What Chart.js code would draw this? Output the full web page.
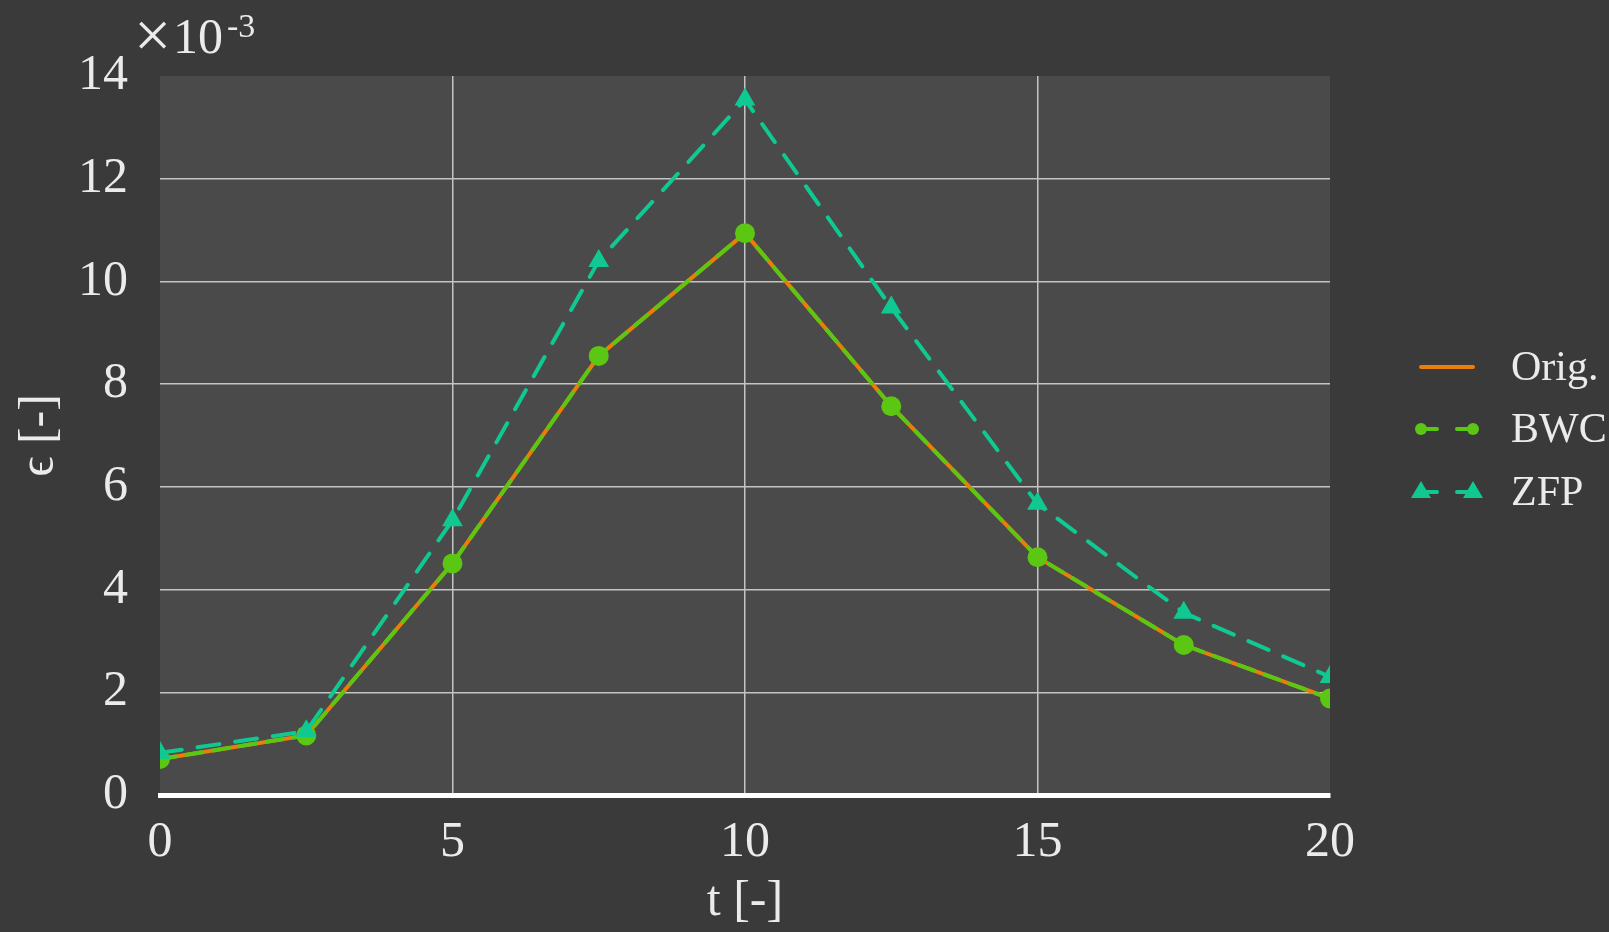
<!DOCTYPE html>
<html>
<head>
<meta charset="utf-8">
<script src="https://cdn.jsdelivr.net/npm/chart.js@4.4.0/dist/chart.umd.min.js"></script>
<style>
  html, body { margin: 0; padding: 0; background: #3a3a3a; }
  #wrap { width: 1609px; height: 932px; }
</style>
</head>
<body>
<div id="wrap"><canvas id="errChart" width="1609" height="932"></canvas></div>
<script>
// error vs time, values in units of 1e-3
const tValues = [0, 2.5, 5, 7.5, 10, 12.5, 15, 17.5, 20]
const origValues = [0.70, 1.16, 4.51, 8.55, 10.94, 7.57, 4.63, 2.92, 1.88]
const bwcValues = [0.70, 1.16, 4.51, 8.55, 10.94, 7.57, 4.63, 2.92, 1.88]
const zfpValues = [0.82, 1.24, 5.35, 10.40, 13.54, 9.49, 5.67, 3.55, 2.30]
const yTicks = [0, 2, 4, 6, 8, 10, 12, 14]
const xTicks = [0, 5, 10, 15, 20]

const FONT = '"Liberation Serif", "DejaVu Serif", serif'
const TEXT = '#ebebeb'
const ORANGE = '#ec7d06'
const GREEN = '#5cc712'
const TEAL = '#10c892'

const toXY = (ys) => tValues.map((t, i) => ({ x: t, y: ys[i] }))

// plot area fill, exponent label and legend
const decor = {
  id: 'decor',
  beforeDraw(chart) {
    const { ctx, chartArea: a } = chart
    ctx.save()
    ctx.fillStyle = '#4a4a4a'
    ctx.fillRect(a.left, a.top, a.right - a.left, a.bottom - a.top)
    ctx.restore()
  },
  afterDraw(chart) {
    const ctx = chart.ctx
    ctx.save()
    ctx.fillStyle = TEXT
    ctx.textBaseline = 'alphabetic'
    ctx.textAlign = 'left'
    ctx.font = '66px ' + FONT
    ctx.fillText('\u00d7', 134, 57)
    ctx.font = '50px ' + FONT
    ctx.fillText('10', 173, 53)
    const w10 = ctx.measureText('10').width
    ctx.font = '34px ' + FONT
    ctx.fillText('-3', 173 + w10 + 4, 37)

    // legend
    const rows = [
      { label: 'Orig.', color: ORANGE, marker: null, y: 367 },
      { label: 'BWC', color: GREEN, marker: 'circle', y: 429 },
      { label: 'ZFP', color: TEAL, marker: 'triangle', y: 492 }
    ]
    const x0 = 1419, x1 = 1475
    rows.forEach(r => {
      ctx.strokeStyle = r.color
      ctx.fillStyle = r.color
      ctx.lineWidth = 4
      ctx.lineCap = 'round'
      ctx.beginPath()
      if (r.marker) {
        ctx.moveTo(x0, r.y); ctx.lineTo(x0 + 18, r.y)
        ctx.moveTo(x1 - 18, r.y); ctx.lineTo(x1, r.y)
      } else {
        ctx.moveTo(x0 + 2, r.y); ctx.lineTo(x1 - 2, r.y)
      }
      ctx.stroke()
      ;[x0 + 2, x1 - 2].forEach(mx => {
        if (r.marker === 'circle') {
          ctx.beginPath(); ctx.arc(mx, r.y, 6, 0, Math.PI * 2); ctx.fill()
        } else if (r.marker === 'triangle') {
          ctx.beginPath()
          ctx.moveTo(mx, r.y - 11); ctx.lineTo(mx + 10, r.y + 6); ctx.lineTo(mx - 10, r.y + 6)
          ctx.closePath(); ctx.fill()
        }
      })
      ctx.fillStyle = TEXT
      ctx.font = '42px ' + FONT
      ctx.textBaseline = 'middle'
      ctx.fillText(r.label, 1511, r.y + 2)
    })
    ctx.restore()
  }
}

new Chart(document.getElementById('errChart').getContext('2d'), {
  type: 'line',
  data: {
    datasets: [
      {
        label: 'ZFP',
        data: toXY(zfpValues),
        borderColor: TEAL,
        backgroundColor: TEAL,
        borderWidth: 4,
        borderDash: [22, 16],
        borderCapStyle: 'round',
        pointStyle: 'triangle',
        pointRadius: 12,
        pointBorderWidth: 0,
        tension: 0,
        order: 0
      },
      {
        label: 'BWC',
        data: toXY(bwcValues),
        borderColor: GREEN,
        backgroundColor: GREEN,
        borderWidth: 4,
        borderDash: [16, 11],
        borderCapStyle: 'round',
        pointStyle: 'circle',
        pointRadius: 10,
        pointBorderWidth: 0,
        tension: 0,
        order: 1
      },
      {
        label: 'Orig.',
        data: toXY(origValues),
        borderColor: ORANGE,
        backgroundColor: ORANGE,
        borderWidth: 4,
        pointRadius: 0,
        tension: 0,
        order: 2
      }
    ]
  },
  options: {
    responsive: false,
    animation: false,
    layout: { padding: { left: 0, top: 76, right: 279, bottom: 0 } },
    plugins: { legend: { display: false }, tooltip: { enabled: false } },
    scales: {
      x: {
        type: 'linear',
        min: 0,
        max: 20,
        afterFit: (s) => { s.height = 137 },
        afterBuildTicks: (s) => { s.ticks = xTicks.map(v => ({ value: v })) },
        grid: {
          drawTicks: false,
          lineWidth: 1.5,
          color: (c) => (c.tick && (c.tick.value === 0 || c.tick.value === 20)) ? 'rgba(0,0,0,0)' : '#c4c4c4'
        },
        border: { display: true, color: '#ffffff', width: 5 },
        ticks: { color: TEXT, font: { family: FONT, size: 50 }, padding: 18, maxRotation: 0 },
        title: { display: true, text: 't [-]', color: TEXT, font: { family: FONT, size: 50 }, padding: { top: 0, bottom: 0 } }
      },
      y: {
        min: 0,
        max: 14,
        afterFit: (s) => { s.width = 160 },
        afterBuildTicks: (s) => { s.ticks = yTicks.map(v => ({ value: v })) },
        grid: {
          drawTicks: false,
          lineWidth: 1.5,
          color: (c) => (c.tick && (c.tick.value === 0 || c.tick.value === 14)) ? 'rgba(0,0,0,0)' : '#c4c4c4'
        },
        border: { display: false },
        ticks: { color: TEXT, font: { family: FONT, size: 50 }, padding: 32 },
        title: { display: true, text: '\u03f5 [-]', color: TEXT, font: { family: FONT, size: 50 }, padding: { top: 10, bottom: 0 } }
      }
    }
  },
  plugins: [decor]
})
</script>
</body>
</html>
